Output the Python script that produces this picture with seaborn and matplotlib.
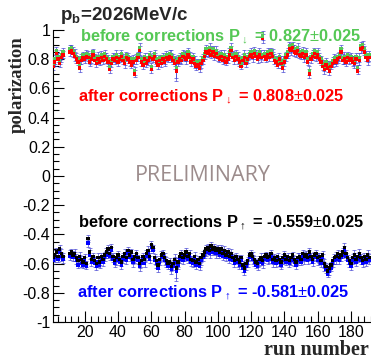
import numpy as np
import pandas as pd
import matplotlib
matplotlib.use("Agg")
import matplotlib.pyplot as plt
import matplotlib.ticker as mticker
import seaborn as sns

# run numbers (runs 8-10 missing)
runs = list(range(1, 8)) + list(range(11, 192))

# spin down, before corrections (green)
down_before = [
    0.77, 0.80, 0.86, 0.82, 0.79, 0.83, 0.85,
    0.87, 0.88, 0.86, 0.84, 0.82, 0.80, 0.76, 0.81, 0.83, 0.82,
    0.84, 0.83, 0.80, 0.82, 0.85, 0.81, 0.79, 0.82, 0.80, 0.83,
    0.81, 0.84, 0.82, 0.80, 0.75, 0.79, 0.82, 0.81, 0.83, 0.80,
    0.82, 0.84, 0.81, 0.79, 0.83, 0.82, 0.80, 0.78, 0.80, 0.72,
    0.81, 0.83, 0.88, 0.80, 0.78, 0.82, 0.79, 0.81, 0.83, 0.75,
    0.82, 0.84, 0.80, 0.78, 0.81, 0.79, 0.82, 0.80, 0.83, 0.82,
    0.84, 0.83, 0.81, 0.79, 0.74, 0.80, 0.82, 0.81, 0.84, 0.83,
    0.82, 0.85, 0.83, 0.80, 0.82, 0.79, 0.77, 0.78, 0.76, 0.79,
    0.81, 0.84, 0.87, 0.86, 0.88, 0.85, 0.87, 0.84, 0.86, 0.83,
    0.82, 0.84, 0.81, 0.83, 0.80, 0.82, 0.85, 0.88, 0.83, 0.81,
    0.84, 0.82, 0.80, 0.77, 0.81, 0.83, 0.79, 0.82, 0.84, 0.85,
    0.83, 0.86, 0.84, 0.82, 0.85, 0.83, 0.96, 0.84, 0.82, 0.85,
    0.83, 0.86, 0.84, 0.81, 0.80, 0.78, 0.82, 0.79, 0.76, 0.80,
    0.83, 0.85, 0.89, 0.88, 0.90, 0.87, 0.86, 0.88, 0.85, 0.84,
    0.86, 0.83, 0.85, 0.80, 0.72, 0.82, 0.84, 0.86, 0.83, 0.85,
    0.82, 0.80, 0.77, 0.75, 0.78, 0.76, 0.74, 0.77, 0.79, 0.81,
    0.80, 0.82, 0.83, 0.87, 0.81, 0.82, 0.80, 0.83, 0.81, 0.82,
    0.80, 0.79, 0.82, 0.74, 0.81, 0.89, 0.90, 0.87, 0.83, 0.81, 0.83,
]

# spin down, after corrections (red)
down_after = [
    0.75, 0.78, 0.84, 0.80, 0.77, 0.81, 0.83,
    0.85, 0.86, 0.84, 0.82, 0.80, 0.78, 0.74, 0.79, 0.81, 0.80,
    0.82, 0.81, 0.78, 0.80, 0.83, 0.79, 0.77, 0.80, 0.78, 0.81,
    0.79, 0.82, 0.80, 0.78, 0.73, 0.77, 0.80, 0.79, 0.81, 0.78,
    0.80, 0.82, 0.79, 0.77, 0.81, 0.80, 0.78, 0.76, 0.78, 0.70,
    0.79, 0.81, 0.86, 0.78, 0.76, 0.80, 0.77, 0.79, 0.81, 0.73,
    0.80, 0.82, 0.78, 0.76, 0.79, 0.77, 0.80, 0.78, 0.81, 0.80,
    0.82, 0.81, 0.79, 0.77, 0.72, 0.78, 0.80, 0.79, 0.82, 0.81,
    0.80, 0.83, 0.81, 0.78, 0.80, 0.77, 0.75, 0.76, 0.74, 0.77,
    0.79, 0.82, 0.85, 0.84, 0.86, 0.83, 0.85, 0.82, 0.84, 0.81,
    0.80, 0.82, 0.79, 0.81, 0.78, 0.80, 0.83, 0.86, 0.81, 0.79,
    0.82, 0.80, 0.78, 0.75, 0.79, 0.81, 0.77, 0.80, 0.82, 0.83,
    0.81, 0.84, 0.82, 0.80, 0.83, 0.81, 0.94, 0.82, 0.80, 0.83,
    0.81, 0.84, 0.82, 0.79, 0.78, 0.76, 0.80, 0.77, 0.74, 0.78,
    0.81, 0.83, 0.87, 0.86, 0.88, 0.85, 0.84, 0.86, 0.83, 0.82,
    0.84, 0.81, 0.83, 0.78, 0.70, 0.80, 0.82, 0.84, 0.81, 0.83,
    0.80, 0.78, 0.75, 0.73, 0.76, 0.74, 0.72, 0.75, 0.77, 0.79,
    0.78, 0.80, 0.81, 0.85, 0.79, 0.80, 0.78, 0.81, 0.79, 0.80,
    0.78, 0.77, 0.80, 0.72, 0.79, 0.87, 0.88, 0.85, 0.81, 0.79, 0.81,
]

# spin up, before corrections (black)
up_before = [
    -0.56, -0.54, -0.52, -0.55, -0.50, -0.53, -0.55,
    -0.53, -0.52, -0.54, -0.53, -0.56, -0.58, -0.55, -0.57, -0.59, -0.56,
    -0.60, -0.43, -0.52, -0.57, -0.55, -0.58, -0.60, -0.56, -0.59, -0.55,
    -0.57, -0.54, -0.52, -0.50, -0.53, -0.49, -0.55, -0.58, -0.56, -0.54,
    -0.57, -0.59, -0.55, -0.53, -0.56, -0.51, -0.54, -0.52, -0.57, -0.55,
    -0.53, -0.56, -0.60, -0.58, -0.55, -0.57, -0.53, -0.51, -0.55, -0.47,
    -0.49, -0.56, -0.58, -0.61, -0.57, -0.54, -0.53, -0.56, -0.58, -0.60,
    -0.59, -0.62, -0.60, -0.57, -0.63, -0.59, -0.55, -0.53, -0.56, -0.54,
    -0.52, -0.55, -0.53, -0.57, -0.58, -0.55, -0.59, -0.57, -0.60, -0.56,
    -0.54, -0.52, -0.50, -0.49, -0.51, -0.48, -0.50, -0.49, -0.51, -0.50,
    -0.52, -0.50, -0.53, -0.51, -0.54, -0.52, -0.55, -0.53, -0.56, -0.58,
    -0.55, -0.57, -0.59, -0.56, -0.61, -0.63, -0.60, -0.58, -0.54, -0.53,
    -0.55, -0.57, -0.59, -0.60, -0.57, -0.56, -0.58, -0.55, -0.54, -0.56,
    -0.55, -0.53, -0.57, -0.56, -0.58, -0.55, -0.57, -0.59, -0.56, -0.54,
    -0.57, -0.55, -0.58, -0.56, -0.54, -0.57, -0.59, -0.56, -0.55, -0.57,
    -0.53, -0.55, -0.54, -0.56, -0.52, -0.55, -0.57, -0.54, -0.53, -0.56,
    -0.55, -0.58, -0.54, -0.60, -0.62, -0.65, -0.63, -0.61, -0.58, -0.56,
    -0.55, -0.53, -0.56, -0.54, -0.52, -0.49, -0.53, -0.56, -0.58, -0.60,
    -0.56, -0.54, -0.57, -0.55, -0.53, -0.56, -0.58, -0.55, -0.57, -0.54, -0.56,
]

# spin up, after corrections (blue)
up_after = [
    -0.58, -0.56, -0.55, -0.57, -0.52, -0.55, -0.57,
    -0.55, -0.54, -0.56, -0.55, -0.58, -0.61, -0.57, -0.60, -0.61, -0.58,
    -0.62, -0.46, -0.54, -0.59, -0.57, -0.60, -0.62, -0.59, -0.61, -0.57,
    -0.59, -0.56, -0.54, -0.53, -0.55, -0.51, -0.57, -0.60, -0.58, -0.56,
    -0.59, -0.61, -0.57, -0.55, -0.58, -0.53, -0.56, -0.55, -0.59, -0.57,
    -0.55, -0.58, -0.62, -0.60, -0.57, -0.60, -0.55, -0.53, -0.57, -0.49,
    -0.51, -0.58, -0.60, -0.63, -0.59, -0.56, -0.55, -0.58, -0.60, -0.62,
    -0.61, -0.64, -0.62, -0.59, -0.65, -0.61, -0.57, -0.55, -0.58, -0.56,
    -0.54, -0.57, -0.55, -0.59, -0.60, -0.57, -0.61, -0.59, -0.62, -0.58,
    -0.56, -0.54, -0.52, -0.51, -0.53, -0.50, -0.52, -0.51, -0.53, -0.52,
    -0.54, -0.52, -0.55, -0.53, -0.56, -0.54, -0.57, -0.55, -0.58, -0.60,
    -0.57, -0.59, -0.61, -0.58, -0.63, -0.65, -0.62, -0.60, -0.56, -0.55,
    -0.57, -0.59, -0.61, -0.62, -0.59, -0.58, -0.60, -0.57, -0.56, -0.58,
    -0.57, -0.55, -0.59, -0.58, -0.60, -0.57, -0.59, -0.61, -0.58, -0.56,
    -0.59, -0.57, -0.60, -0.58, -0.56, -0.59, -0.61, -0.58, -0.57, -0.59,
    -0.55, -0.57, -0.56, -0.58, -0.54, -0.57, -0.59, -0.56, -0.55, -0.58,
    -0.57, -0.60, -0.56, -0.62, -0.64, -0.67, -0.65, -0.63, -0.60, -0.58,
    -0.57, -0.55, -0.58, -0.56, -0.54, -0.51, -0.55, -0.58, -0.60, -0.62,
    -0.58, -0.56, -0.59, -0.57, -0.55, -0.58, -0.60, -0.57, -0.59, -0.56, -0.58,
]

# statistical error per run
err = [
    0.025, 0.03, 0.025, 0.02, 0.025, 0.03, 0.025,
    0.025, 0.02, 0.025, 0.03, 0.025, 0.02, 0.03, 0.025, 0.02, 0.025,
    0.02, 0.025, 0.03, 0.025, 0.02, 0.025, 0.025, 0.03, 0.02, 0.025,
    0.025, 0.02, 0.025, 0.03, 0.025, 0.025, 0.02, 0.025, 0.03, 0.025,
    0.02, 0.025, 0.025, 0.03, 0.02, 0.025, 0.025, 0.02, 0.03, 0.025,
    0.025, 0.02, 0.03, 0.025, 0.025, 0.02, 0.025, 0.03, 0.025, 0.025,
    0.02, 0.025, 0.03, 0.025, 0.02, 0.025, 0.025, 0.03, 0.025, 0.02,
    0.025, 0.03, 0.025, 0.035, 0.07, 0.03, 0.025, 0.02, 0.025, 0.025,
    0.03, 0.025, 0.02, 0.025, 0.025, 0.03, 0.025, 0.02, 0.025, 0.03,
    0.025, 0.02, 0.025, 0.025, 0.03, 0.025, 0.02, 0.025, 0.03, 0.025,
    0.02, 0.025, 0.025, 0.03, 0.02, 0.025, 0.025, 0.03, 0.025, 0.02,
    0.025, 0.03, 0.025, 0.02, 0.025, 0.03, 0.025, 0.025, 0.02, 0.025,
    0.03, 0.025, 0.02, 0.025, 0.025, 0.03, 0.03, 0.025, 0.02, 0.025,
    0.025, 0.02, 0.03, 0.025, 0.025, 0.02, 0.025, 0.03, 0.025, 0.025,
    0.02, 0.025, 0.025, 0.03, 0.02, 0.025, 0.025, 0.03, 0.025, 0.02,
    0.025, 0.03, 0.025, 0.02, 0.03, 0.025, 0.025, 0.02, 0.025, 0.03,
    0.025, 0.02, 0.025, 0.03, 0.025, 0.025, 0.03, 0.02, 0.025, 0.025,
    0.03, 0.025, 0.02, 0.025, 0.025, 0.03, 0.025, 0.02, 0.025, 0.025,
    0.025, 0.03, 0.025, 0.02, 0.03, 0.025, 0.025, 0.02, 0.025, 0.03, 0.025,
]

GREEN = "#55c855"
RED = "#ff0000"
BLUE = "#0000ff"
EBAR = "#3a3ad0"

sns.set_theme(style="ticks")
plt.rcParams["font.family"] = ["Liberation Sans", "DejaVu Sans"]
plt.rcParams["axes.unicode_minus"] = False
plt.rcParams["mathtext.fontset"] = "custom"
plt.rcParams["mathtext.rm"] = "Liberation Sans"
plt.rcParams["mathtext.bf"] = "Liberation Sans:bold"

# long tables so seaborn draws the markers in the right order
top = pd.DataFrame({
    "run": runs + runs,
    "pol": down_before + down_after,
    "kind": ["before"] * len(runs) + ["after"] * len(runs),
})
bot = pd.DataFrame({
    "run": runs + runs,
    "pol": up_after + up_before,
    "kind": ["after"] * len(runs) + ["before"] * len(runs),
})

fig = plt.figure(figsize=(3.71, 3.62), dpi=100)
ax = fig.add_axes([53 / 371, 40 / 362, 318 / 371, 292 / 362])

# error bars first, markers on top
for vals in (down_before, down_after, up_before, up_after):
    ax.errorbar(runs, vals, yerr=err, fmt="none", ecolor=EBAR,
                elinewidth=0.6, capsize=1.2, capthick=0.6, alpha=0.75, zorder=2)

sns.scatterplot(data=top, x="run", y="pol", hue="kind",
                palette={"before": GREEN, "after": RED}, marker="s", s=6,
                linewidth=0, legend=False, ax=ax, zorder=3)
sns.scatterplot(data=bot, x="run", y="pol", hue="kind",
                palette={"before": "black", "after": BLUE}, marker="s", s=6,
                linewidth=0, legend=False, ax=ax, zorder=3)

ax.set_xlim(1, 192)
ax.set_ylim(-1, 1)
ax.set_xlabel("")
ax.set_ylabel("")
ax.xaxis.set_major_locator(mticker.FixedLocator([20, 40, 60, 80, 100, 120, 140, 160, 180]))
ax.xaxis.set_minor_locator(mticker.MultipleLocator(4))
ax.yaxis.set_major_locator(mticker.MultipleLocator(0.2))
ax.yaxis.set_minor_locator(mticker.MultipleLocator(0.05))
ax.yaxis.set_major_formatter(mticker.FuncFormatter(lambda v, p: f"{v:g}" if abs(v) > 1e-9 else "0"))
ax.tick_params(which="both", direction="in", top=False, right=False,
               labelsize=11.5, colors="black", width=0.8)
ax.tick_params(which="major", length=8, pad=2)
ax.tick_params(which="minor", length=4)
sns.despine(ax=ax, top=True, right=True)
for s in ("left", "bottom"):
    ax.spines[s].set_linewidth(0.8)
    ax.spines[s].set_color("black")

fs = 11.8
ax.text(0.085, 0.973, r"before corrections P$_{\downarrow}$ = 0.827$\pm$0.025",
        transform=ax.transAxes, color=GREEN, fontsize=fs, fontweight="bold", va="center")
ax.text(0.08, 0.77, r"after corrections P$_{\downarrow}$ = 0.808$\pm$0.025",
        transform=ax.transAxes, color=RED, fontsize=fs, fontweight="bold", va="center")
ax.text(0.258, 0.503, "PRELIMINARY", transform=ax.transAxes, color="#9c8c8c",
        fontsize=15.5, family=["Open Sans", "DejaVu Sans"], va="center")
ax.text(0.08, 0.339, r"before corrections P$_{\uparrow}$ = -0.559$\pm$0.025",
        transform=ax.transAxes, color="black", fontsize=fs, fontweight="bold", va="center")
ax.text(0.075, 0.099, r"after corrections P$_{\uparrow}$ = -0.581$\pm$0.025",
        transform=ax.transAxes, color=BLUE, fontsize=fs, fontweight="bold", va="center")

fig.text(60 / 371, 1 - 16 / 362, r"p$_{\mathbf{b}}$=2026MeV/c", fontsize=13.5,
         fontweight="bold", va="center", ha="left")
fig.text(17 / 371, 1 - 36 / 362, "polarization", rotation=90, ha="center", va="top",
         fontsize=13.5, fontweight="bold", family=["Liberation Serif", "DejaVu Serif"])
fig.text(369 / 371, 1 - 350 / 362, "run number", ha="right", va="center",
         fontsize=14.5, fontweight="bold", family=["Liberation Serif", "DejaVu Serif"])

fig.savefig("out.png", dpi=100)
